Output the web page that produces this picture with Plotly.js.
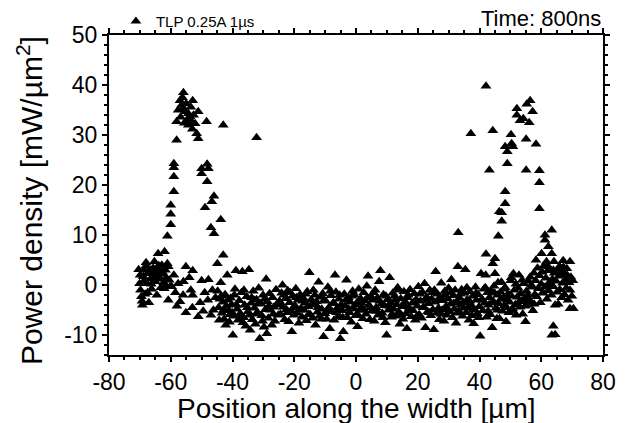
<!DOCTYPE html>
<html>
<head>
<meta charset="utf-8">
<script src="https://cdn.plot.ly/plotly-3.0.1.min.js"></script>
<style>
html,body{margin:0;padding:0;background:#fff;}
#chart{width:637px;height:423px;}
</style>
</head>
<body>
<div id="chart"></div>
<script>
// ---- data (x: position [µm], y: power density [mW/µm²]) ----
var leftCluster = [[-70.4,3.1],[-70.1,0.3],[-69.8,-1.0],[-69.5,-2.3],[-69.2,-4.0],[-68.9,1.7],[-68.6,3.0],[-68.3,-1.8],[-68.0,4.5],[-67.7,0.3],[-67.4,2.3],[-67.1,-3.5],[-66.8,3.1],[-66.5,1.3],[-66.2,-0.8],[-65.9,2.6],[-65.6,3.1],[-65.3,4.7],[-65.0,0.7],[-64.7,2.3],[-64.4,3.5],[-64.1,6.3],[-63.8,1.7],[-63.5,2.7],[-63.2,-0.5],[-62.9,4.0],[-62.6,2.3],[-62.3,0.5],[-62.0,6.7],[-61.7,3.0],[-61.4,-0.2],[-61.1,4.3],[-60.8,3.7],[-60.5,1.0],[-60.2,-0.3],[-69.9,2.0],[-69.3,-3.2],[-68.7,0.8],[-68.1,3.8],[-67.5,-1.5],[-66.9,2.8],[-66.3,0.2],[-65.7,3.4],[-65.1,1.9],[-64.5,-2.0],[-63.9,3.9],[-63.3,1.2],[-62.7,2.6],[-62.1,-0.7],[-61.5,1.5]];

var leftPeak = [[-55.9,38.5],[-52.9,36.9],[-57.0,36.9],[-56.5,36.0],[-57.6,35.0],[-55.9,35.3],[-55.4,34.7],[-54.3,34.3],[-53.8,33.7],[-54.8,33.0],[-53.2,32.7],[-52.1,32.3],[-51.1,34.7],[-54.3,32.0],[-58.1,32.7],[-48.4,32.7],[-43.0,32.0],[-51.6,30.3],[-51.1,29.3],[-58.1,29.0],[-32.2,29.5],[-56.2,37.5],[-55.0,36.3],[-53.5,35.6],[-52.6,34.0],[-56.8,33.6],[-55.6,32.4],[-53.0,31.2],[-59.0,24.3],[-59.0,23.5],[-59.0,21.7],[-50.0,23.3],[-48.2,24.2],[-47.8,23.3],[-50.0,22.3],[-48.2,20.7],[-59.0,18.7],[-46.0,17.8],[-46.7,16.7],[-60.0,16.0],[-48.9,15.5],[-60.0,14.2],[-43.8,13.1],[-60.0,12.1],[-47.0,11.5],[-46.0,10.3],[-61.1,9.8],[-43.0,6.0],[-44.9,4.3]];

var leftBand = [[-59.7,-0.3],[-59.0,2.0],[-58.5,-1.5],[-57.6,0.3],[-57.0,-3.3],[-56.0,-2.0],[-55.9,0.7],[-55.1,3.7],[-55.1,-5.5],[-54.0,1.5],[-53.5,-1.0],[-52.9,2.9],[-52.9,-2.0],[-51.1,-6.3],[-50.5,-3.5],[-50.0,0.9],[-49.0,-1.5],[-48.0,-3.0],[-47.8,1.1],[-46.5,-1.0],[-46.2,-5.0],[-45.5,-2.5],[-60.8,-3.0],[-58.0,-4.2],[-53.0,-4.5],[-49.5,-5.2],[-47.0,-6.0]];

var innerLeftBand = [[-44.8,-1.2],[-44.5,-4.5],[-44.1,-2.8],[-43.8,0.5],[-43.4,-5.6],[-43.1,-3.4],[-42.7,-6.8],[-42.4,-1.9],[-42.0,-4.2],[-41.7,2.0],[-41.3,-5.1],[-41.0,-7.4],[-40.6,-2.6],[-40.3,-3.9],[-39.9,-10.0],[-39.6,-6.2],[-39.2,-0.8],[-38.9,2.9],[-38.5,-4.8],[-38.2,-7.0],[-37.8,-3.1],[-37.5,-5.7],[-37.1,-1.5],[-36.8,2.7],[-36.4,-6.5],[-36.1,-4.0],[-35.7,-8.2],[-35.4,-2.3],[-35.0,-5.3],[-34.7,3.1],[-34.3,-9.0],[-34.0,-3.6],[-33.6,-6.9],[-33.3,-1.2],[-32.9,-4.6],[-32.6,-7.8],[-32.2,-2.9],[-31.9,-5.5],[-31.5,-0.6],[-31.2,-10.7],[-30.8,-3.7],[-30.5,-6.1],[-30.1,-2.0],[-29.8,-8.4],[-29.4,-4.9],[-29.1,1.2],[-28.7,-3.3],[-28.4,-6.6],[-28.0,-1.7],[-27.7,-5.0],[-27.3,-8.0],[-27.0,-2.5],[-26.6,-4.4],[-26.3,-7.2],[-25.9,-0.9],[-25.6,-3.8],[-25.2,-6.0],[-40.8,-5.9],[-36.6,-7.5],[-33.0,-3.0],[-44.3,-7.0],[-43.6,-2.2],[-42.9,-5.0],[-42.2,-8.0],[-41.5,-3.0],[-40.1,-5.5],[-39.4,-2.0],[-38.7,-4.0],[-37.3,-6.5],[-36.3,-1.0],[-35.2,-4.5],[-34.5,-6.0],[-33.8,-2.5],[-32.4,-5.8],[-31.7,-3.8],[-30.3,-7.2],[-29.6,-2.8],[-28.9,-9.7],[-28.2,-4.2],[-26.8,-5.8]];

var centreBand = [[-24.8,-3.2],[-24.5,-5.8],[-24.1,-1.6],[-23.8,0.0],[-23.5,-4.4],[-23.1,-6.9],[-22.8,-2.7],[-22.5,-4.9],[-22.1,-1.1],[-21.8,-7.3],[-21.5,-3.5],[-21.1,-5.2],[-20.8,-9.3],[-20.5,-2.2],[-20.1,-6.0],[-19.8,-4.1],[-19.5,-0.7],[-19.1,-5.6],[-18.8,-3.0],[-18.5,-7.6],[-18.1,-1.9],[-17.8,-4.7],[-17.5,-6.4],[-17.1,-2.6],[-16.8,-5.0],[-16.5,-3.6],[-16.1,-7.1],[-15.8,-1.3],[-15.5,-4.3],[-15.1,2.5],[-14.8,-5.9],[-14.5,-2.9],[-14.1,-6.6],[-13.8,-1.0],[-13.5,-4.0],[-13.1,-8.0],[-12.8,-3.3],[-12.5,-5.4],[-12.1,0.6],[-11.8,-6.2],[-11.5,-2.4],[-11.1,-4.8],[-10.8,-1.7],[-10.5,-10.3],[-10.1,-5.7],[-9.8,-3.2],[-9.5,-6.8],[-9.1,-0.4],[-8.8,-4.5],[-8.5,-8.7],[-8.1,-2.1],[-7.8,-5.3],[-7.5,-3.7],[-7.1,-7.0],[-6.8,2.0],[-6.5,-1.4],[-6.1,-4.6],[-5.8,-6.3],[-5.5,-2.8],[-5.1,-10.7],[-4.8,-3.9],[-4.5,-5.1],[-4.1,-9.3],[-3.8,-1.8],[-3.5,-4.2],[-3.1,1.0],[-2.8,-6.5],[-2.5,-2.5],[-2.1,-5.5],[-1.8,-3.4],[-1.5,-7.4],[-1.1,-1.2],[-0.8,-4.7],[-0.5,-2.0],[-0.1,-6.1],[0.2,-3.6],[0.5,-8.3],[0.9,-0.8],[1.2,-5.0],[1.5,-2.7],[1.9,-4.4],[2.2,-6.7],[2.5,-1.5],[2.9,-3.1],[3.2,-5.8],[3.5,-0.2],[3.9,1.8],[4.2,-4.0],[4.5,-6.9],[4.9,-2.3],[5.2,-5.2],[5.5,-3.0],[5.9,-7.2],[6.2,-1.0],[6.5,-4.5],[6.9,-2.6],[7.2,-6.0],[7.5,0.7],[7.9,2.9],[8.2,-3.8],[8.5,-5.6],[8.9,-1.9],[9.2,-4.1],[9.5,-7.5],[9.9,-10.0],[10.2,-2.9],[10.5,-5.0],[10.9,1.5],[11.2,-3.5],[11.5,-6.4],[11.9,-1.6],[12.2,-4.8],[12.5,-2.2],[12.9,-6.2],[13.2,-3.9],[13.5,-0.5],[13.9,-5.4],[14.2,-7.8],[14.5,-2.7],[14.9,-4.3],[15.2,-6.8],[15.5,-1.3],[15.9,-3.3],[16.2,-5.7],[16.5,-8.7],[16.9,-2.0],[17.2,-4.6],[17.5,-0.9],[17.9,-6.3],[18.2,-3.6],[18.5,-5.1],[18.9,-1.7],[19.2,-7.0],[19.5,-2.9],[19.9,-4.2],[20.2,-0.3],[20.5,-5.9],[20.9,-3.2],[21.2,-6.6],[21.5,-1.4],[21.9,-4.4],[22.2,0.3],[22.5,-8.5],[22.9,-2.4],[23.2,-5.3],[23.5,-3.7],[23.9,-1.0],[24.2,-6.1],[24.5,-2.8],[24.9,-4.9],[-24.3,-4.0],[-23.3,-2.0],[-22.3,-5.5],[-21.3,-1.5],[-20.3,-4.6],[-19.3,-2.5],[-18.3,-5.0],[-17.3,-3.2],[-16.3,-1.8],[-15.3,-5.8],[-14.3,-3.8],[-13.3,-2.0],[-12.3,-4.5],[-11.3,-6.8],[-10.3,-3.0],[-9.3,-5.0],[-8.3,-1.2],[-7.3,-3.5],[-6.3,-5.5],[-5.3,-2.0],[-4.3,-6.5],[-3.3,-3.0],[-2.3,-4.8],[-1.3,-2.2],[-0.3,-4.0],[0.7,-6.0],[1.7,-3.5],[2.7,-5.0],[3.7,-2.5],[4.7,-4.5],[5.7,-1.5],[6.7,-5.2],[7.7,-3.2],[8.7,-6.5],[9.7,-2.2],[10.7,-4.2],[11.7,-5.8],[12.7,-3.0],[13.7,-1.0],[14.7,-6.0],[15.7,-4.0],[16.7,-2.5],[17.7,-5.0],[18.7,-3.5],[19.7,-6.2],[20.7,-1.8],[21.7,-4.5],[22.7,-3.0],[23.7,-5.5],[24.7,-1.5]];

var innerRightBand = [[25.2,-8.9],[25.5,-3.4],[25.8,2.7],[26.1,-5.6],[26.4,-1.8],[26.7,-4.6],[27.0,-6.9],[27.3,-2.4],[27.6,0.4],[27.9,-5.0],[28.2,-3.1],[28.5,-7.2],[28.8,-1.2],[29.1,-4.3],[29.4,-6.0],[29.7,-2.7],[30.0,-0.6],[30.3,-5.3],[30.6,-3.8],[30.9,1.1],[31.2,-6.5],[31.5,-2.1],[31.8,-4.8],[32.1,-1.0],[32.4,-7.6],[32.7,-3.3],[33.0,3.7],[33.3,-5.2],[33.6,-2.6],[33.9,-4.0],[34.2,-0.9],[34.5,-6.2],[34.8,-3.5],[35.1,-1.6],[35.4,3.1],[35.7,-5.5],[36.0,-2.9],[36.3,-4.5],[36.6,-7.0],[36.9,-1.3],[37.2,-3.9],[37.5,-6.1],[37.8,-2.2],[38.1,-7.7],[38.4,-4.9],[38.7,-0.4],[39.0,-3.0],[39.3,-5.7],[39.6,-1.9],[39.9,-4.3],[40.2,-10.2],[40.5,2.3],[40.8,-2.8],[41.1,-5.1],[41.4,-0.8],[41.7,-3.6],[42.0,2.0],[42.3,-6.4],[42.6,-1.5],[42.9,-4.0],[43.2,-2.5],[43.5,-5.9],[43.8,-1.1],[44.1,-8.5],[44.4,-3.2],[44.7,-0.2],[45.0,2.3],[45.3,-4.6],[45.6,-6.7],[45.9,-2.0],[46.2,-3.7],[46.5,-6.7],[46.8,-1.4],[47.1,0.6],[47.4,-5.2],[47.7,-2.6],[48.0,-4.1],[48.3,-0.5],[48.6,-7.3],[48.9,-3.0],[49.2,-1.8],[49.5,-5.5],[49.8,-3.4],[50.1,0.9],[50.4,-2.2],[50.7,-4.7],[51.0,2.3],[51.3,-1.0],[51.6,-3.9],[51.9,-6.0],[52.2,-2.4],[52.5,-0.6],[52.8,2.0],[53.1,-4.4],[53.4,-1.7],[53.7,-3.1],[54.0,-5.8],[54.3,0.3],[54.6,-2.7],[54.9,-7.3],[55.2,-1.2],[55.5,-4.0],[55.8,0.8],[56.1,-2.9],[56.4,1.6],[56.7,-3.6],[57.0,-0.4],[57.3,-5.1],[57.6,2.4],[57.9,-1.9],[25.4,-1.0],[26.6,-3.0],[27.5,-5.8],[28.7,-2.0],[29.6,-4.8],[30.8,-1.5],[31.7,-3.6],[32.9,-5.6],[33.8,-1.8],[34.9,-4.6],[35.9,-0.5],[36.8,-3.2],[37.9,-5.0],[38.9,-1.6],[39.8,-6.5],[40.9,-3.0],[41.9,-0.5],[42.8,-5.2],[43.9,-3.5],[44.9,-1.6],[45.8,-5.0],[46.9,-2.8],[47.9,-0.8],[48.8,-4.5],[49.9,-2.0],[50.9,-5.2],[51.8,0.2],[52.9,-3.3],[53.8,1.0],[54.8,-4.2],[55.7,-2.0],[56.8,0.0],[57.7,-3.8],[50.3,1.5],[46.0,0.5]];

var rightCluster = [[58.2,0.9],[58.5,-2.3],[58.8,3.4],[59.1,-0.7],[59.4,1.9],[59.7,-3.5],[60.0,0.2],[60.3,2.6],[60.6,-1.6],[60.9,3.9],[61.2,-0.4],[61.5,1.4],[61.8,-2.8],[62.1,2.9],[62.4,-1.1],[62.7,0.6],[63.0,3.0],[63.3,-2.0],[63.6,1.2],[63.9,-0.3],[64.2,2.4],[64.5,-4.0],[64.8,0.8],[65.1,-1.4],[65.4,3.3],[65.7,1.8],[66.0,-0.9],[66.3,2.7],[66.6,-2.5],[66.9,0.4],[67.2,3.6],[67.5,-1.9],[67.8,1.1],[68.1,-0.6],[68.4,2.0],[68.7,-3.0],[69.0,0.5],[69.3,-4.7],[69.6,1.6],[69.9,-2.2],[70.2,0.9],[70.4,-4.7],[63.4,-10.0],[64.5,-9.9],[63.9,-8.2],[60.5,-1.5],[62.5,0.0],[65.5,-3.8],[67.5,2.2],[69.3,-1.0]];

var rightPeak = [[42.1,39.8],[56.4,36.9],[55.3,36.2],[52.1,35.3],[57.2,34.7],[52.1,34.0],[54.2,33.3],[53.1,32.9],[56.1,32.5],[37.2,30.3],[44.3,30.9],[50.2,30.1],[55.1,29.2],[58.3,28.2],[48.3,27.7],[50.8,27.7],[50.4,28.3],[49.0,26.7],[49.0,24.3],[43.2,23.0],[55.1,23.0],[59.4,22.9],[59.4,20.5],[48.3,18.7],[48.3,16.3],[46.4,14.7],[47.2,14.5],[47.2,12.8],[59.4,15.3],[33.1,10.5],[46.1,9.8],[63.4,11.0],[61.2,10.0],[61.2,9.0],[42.1,6.2],[45.0,5.3],[44.3,4.3],[62.3,7.7],[60.1,6.3],[63.4,6.3],[58.3,5.0],[61.7,4.7],[64.1,4.7],[67.1,4.9],[69.3,4.7],[62.3,3.7],[66.0,3.7],[68.3,3.3],[63.9,3.0]];

var seriesName = 'TLP 0.25A 1µs';
var timeLabel = 'Time: 800ns';
var xTitle = 'Position along the width [µm]';
var yTitle = 'Power density [mW/µm<sup>2</sup>]';
var xTickVals = [-80,-60,-40,-20,0,20,40,60,80];
var yTickVals = [-10,0,10,20,30,40,50];

var allPts = [].concat(leftCluster, leftPeak, leftBand, innerLeftBand, centreBand, innerRightBand, rightCluster, rightPeak);

var FONT = '"Liberation Sans", Arial, sans-serif';

var trace = {
  x: allPts.map(function(p){return p[0];}),
  y: allPts.map(function(p){return p[1];}),
  type: 'scatter',
  mode: 'markers',
  name: seriesName,
  marker: {symbol: 'triangle-up', size: 9.5, color: '#000', line: {width: 0}},
  showlegend: true
};

var axisCommon = {
  showline: true, linecolor: '#000', linewidth: 2,
  mirror: 'ticks', ticks: 'outside', ticklen: 5, tickwidth: 2, tickcolor: '#000',
  showgrid: false, zeroline: false,
  tickfont: {family: FONT, size: 23, color: '#000'}
};

var layout = {
  width: 637, height: 423,
  margin: {l: 109, r: 34, t: 35, b: 68, autoexpand: false},
  paper_bgcolor: '#fff', plot_bgcolor: '#fff',
  font: {family: FONT, color: '#000'},
  xaxis: Object.assign({}, axisCommon, {
    range: [-80, 80], tickvals: xTickVals, ticktext: xTickVals.map(String),
    minor: {dtick: 5, ticks: 'outside', ticklen: 3, tickwidth: 2, tickcolor: '#000'}
  }),
  yaxis: Object.assign({}, axisCommon, {
    range: [-14, 50], tickvals: yTickVals, ticktext: yTickVals.map(String),
    minor: {dtick: 2, ticks: 'outside', ticklen: 3, tickwidth: 2, tickcolor: '#000'}
  }),
  showlegend: true,
  legend: {x: 0.014, y: 1.094, xanchor: 'left', yanchor: 'top', bgcolor: 'rgba(0,0,0,0)',
           font: {family: FONT, size: 15, color: '#000'}, itemwidth: 30},
  annotations: [
    {text: timeLabel, xref: 'paper', yref: 'paper', x: 1.0, y: 1.053, xanchor: 'right', yanchor: 'middle',
     showarrow: false, font: {family: FONT, size: 22, color: '#000'}},
    {text: xTitle, xref: 'paper', yref: 'paper', x: 0.5, y: -0.168, xanchor: 'center', yanchor: 'middle',
     showarrow: false, font: {family: FONT, size: 28, color: '#000'}},
    {text: yTitle, xref: 'paper', yref: 'paper', x: -0.160, y: 0.484, xanchor: 'center', yanchor: 'middle',
     textangle: -90, showarrow: false, font: {family: FONT, size: 30, color: '#000'}}
  ]
};

Plotly.newPlot('chart', [trace], layout, {displayModeBar: false, staticPlot: true});
</script>
</body>
</html>
